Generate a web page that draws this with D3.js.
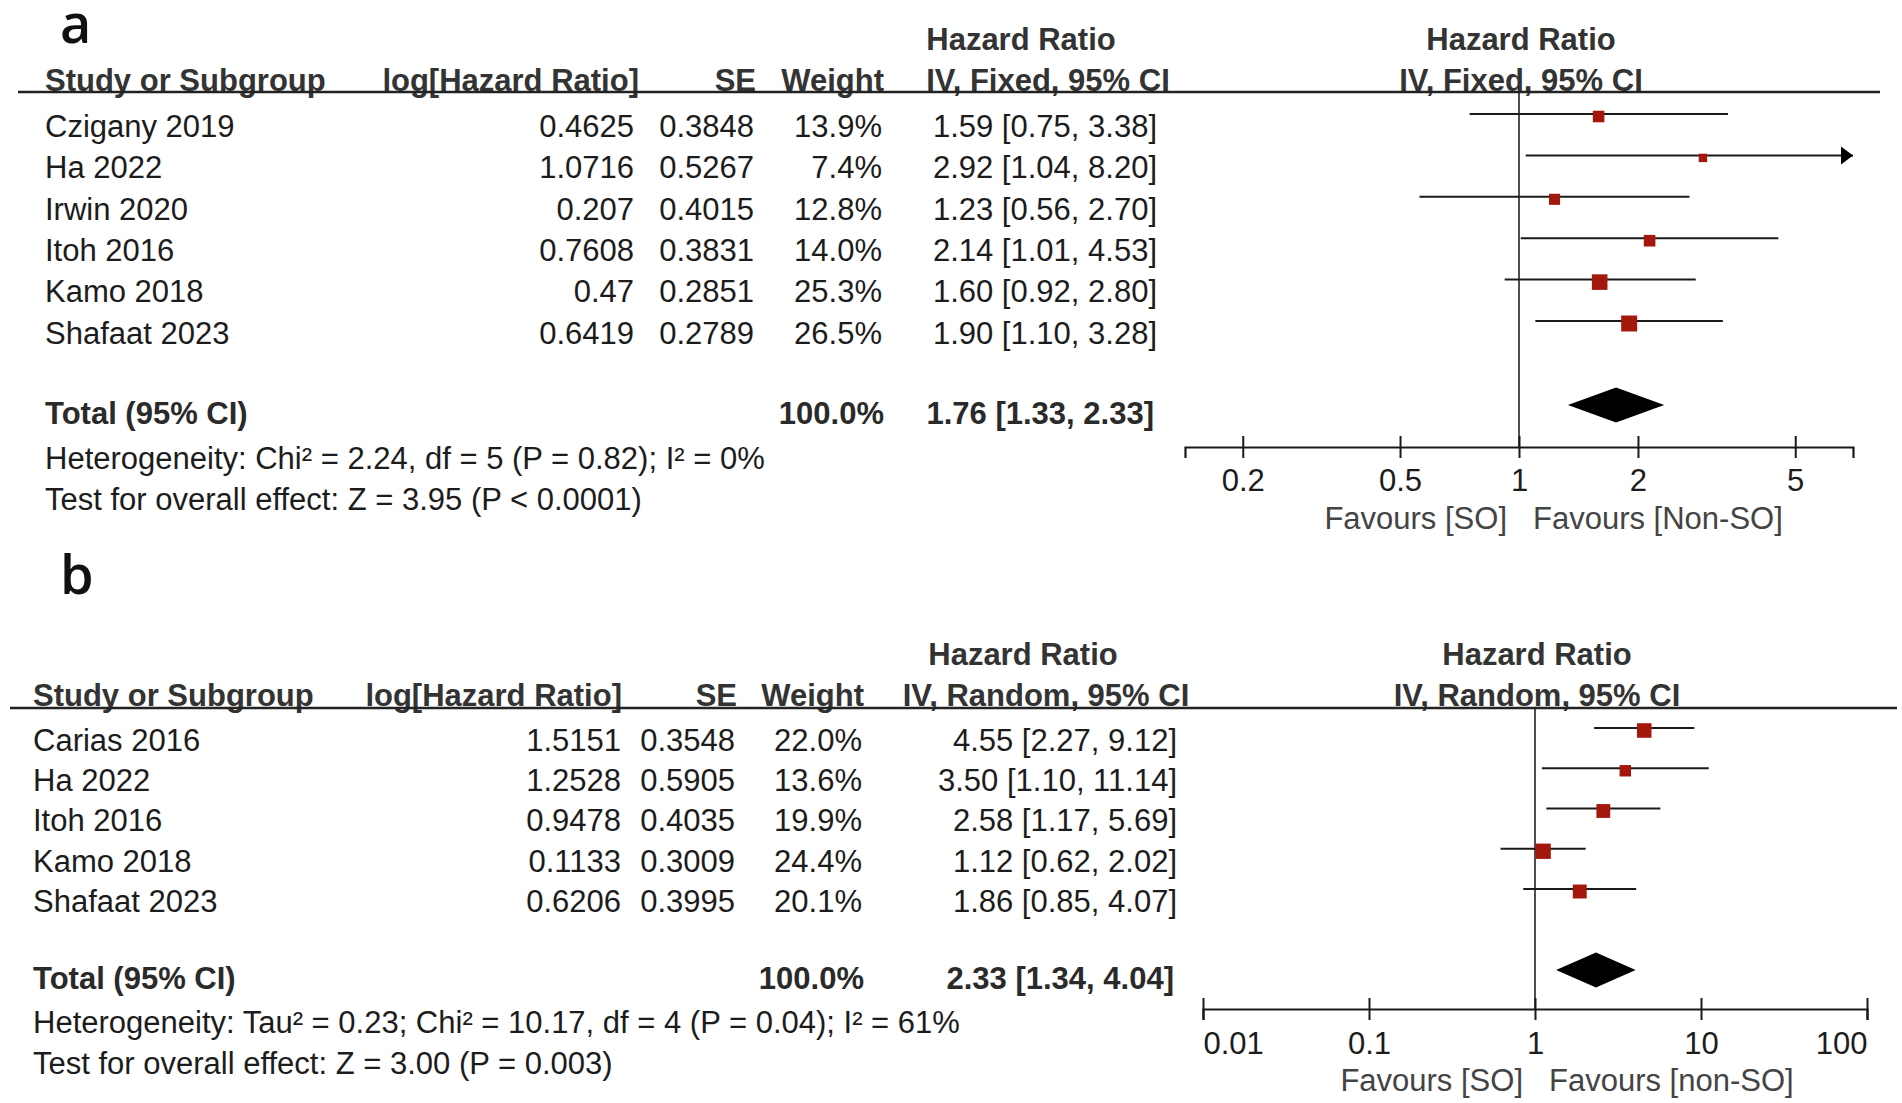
<!DOCTYPE html>
<html>
<head>
<meta charset="utf-8">
<script src="https://d3js.org/d3.v7.min.js"></script>
<style>
body { margin: 0; background: #fff; }
text { font-family: "Liberation Sans", Arial, sans-serif; font-size: 31px; fill: #1c1c1c; }
.head { font-weight: bold; fill: #333; }
.bold { font-weight: bold; fill: #2a2a2a; }
.fav { fill: #444; }
.letter { font-family: "Open Sans", "Noto Sans", sans-serif; font-size: 54px; font-weight: 600; fill: #111; }
</style>
</head>
<body>
<div id="chart"></div>
<script>
// panel a - fixed effect
var studiesA = ["Czigany 2019", "Ha 2022", "Irwin 2020", "Itoh 2016", "Kamo 2018", "Shafaat 2023"]
var logHrA = [0.4625, 1.0716, 0.207, 0.7608, 0.47, 0.6419]
var seA = [0.3848, 0.5267, 0.4015, 0.3831, 0.2851, 0.2789]
var weightA = [13.9, 7.4, 12.8, 14.0, 25.3, 26.5]
var hrA = [1.59, 2.92, 1.23, 2.14, 1.60, 1.90]
var lowA = [0.75, 1.04, 0.56, 1.01, 0.92, 1.10]
var highA = [3.38, 8.20, 2.70, 4.53, 2.80, 3.28]
var totalA = [1.76, 1.33, 2.33]
var ticksA = [0.2, 0.5, 1, 2, 5]
var hetA = "Heterogeneity: Chi\u00b2 = 2.24, df = 5 (P = 0.82); I\u00b2 = 0%"
var testA = "Test for overall effect: Z = 3.95 (P < 0.0001)"

// panel b - random effects
var studiesB = ["Carias 2016", "Ha 2022", "Itoh 2016", "Kamo 2018", "Shafaat 2023"]
var logHrB = [1.5151, 1.2528, 0.9478, 0.1133, 0.6206]
var seB = [0.3548, 0.5905, 0.4035, 0.3009, 0.3995]
var weightB = [22.0, 13.6, 19.9, 24.4, 20.1]
var hrB = [4.55, 3.50, 2.58, 1.12, 1.86]
var lowB = [2.27, 1.10, 1.17, 0.62, 0.85]
var highB = [9.12, 11.14, 5.69, 2.02, 4.07]
var totalB = [2.33, 1.34, 4.04]
var ticksB = [0.01, 0.1, 1, 10, 100]
var hetB = "Heterogeneity: Tau\u00b2 = 0.23; Chi\u00b2 = 10.17, df = 4 (P = 0.04); I\u00b2 = 61%"
var testB = "Test for overall effect: Z = 3.00 (P = 0.003)"

var svg = d3.select("#chart")
  .append("svg")
  .attr("width", 1902)
  .attr("height", 1103)

function txt(g, x, y, s, anchor, cls) {
  return g.append("text")
    .attr("x", x)
    .attr("y", y)
    .attr("dy", "0.35em")
    .attr("text-anchor", anchor || "start")
    .attr("class", cls || null)
    .text(s)
}

function forest(d, lay) {
  var g = svg.append("g")

  var y = d3.scalePoint().domain(d.studies).range(lay.rows)
  var x = d3.scaleLog().domain(lay.domain).range(lay.range)
  var xmax = lay.range[1]

  // panel letter
  g.append("text").attr("class", "letter").attr("x", 60).attr("y", lay.letterY).text(d.letter)

  // headers
  txt(g, lay.hrHeadX, lay.h1, "Hazard Ratio", "middle", "head")
  txt(g, lay.plotHeadX, lay.h1, "Hazard Ratio", "middle", "head")
  txt(g, lay.nameX, lay.h2, "Study or Subgroup", "start", "head")
  txt(g, lay.logHeadX, lay.h2, "log[Hazard Ratio]", "end", "head")
  txt(g, lay.seX + 2, lay.h2, "SE", "end", "head")
  txt(g, lay.wX + 2, lay.h2, "Weight", "end", "head")
  txt(g, lay.ciHeadX, lay.h2, d.method, "middle", "head")
  txt(g, lay.plotHeadX, lay.h2, d.method, "middle", "head")

  g.append("line")
    .attr("x1", lay.lineX[0]).attr("x2", lay.lineX[1])
    .attr("y1", lay.line).attr("y2", lay.line)
    .attr("stroke", "#222").attr("stroke-width", 2.5)

  // study rows
  d.studies.forEach(function(s, i) {
    var yy = y(s)
    txt(g, lay.nameX, yy, s)
    txt(g, lay.logX, yy, String(d.loghr[i]), "end")
    txt(g, lay.seX, yy, String(d.se[i]), "end")
    txt(g, lay.wX, yy, d.weight[i].toFixed(1) + "%", "end")
    txt(g, lay.ciX, yy, d.hr[i].toFixed(2) + " [" + d.low[i].toFixed(2) + ", " + d.high[i].toFixed(2) + "]", "end")
  })

  // totals and footnotes
  txt(g, lay.nameX, lay.totalY, "Total (95% CI)", "start", "bold")
  txt(g, lay.wX + 2, lay.totalY, "100.0%", "end", "bold")
  txt(g, lay.ciX - 3, lay.totalY, d.total[0].toFixed(2) + " [" + d.total[1].toFixed(2) + ", " + d.total[2].toFixed(2) + "]", "end", "bold")
  txt(g, lay.nameX, lay.hetY, d.het)
  txt(g, lay.nameX, lay.testY, d.test)

  // line of no effect
  g.append("line")
    .attr("x1", x(1)).attr("x2", x(1))
    .attr("y1", lay.line).attr("y2", lay.axisY)
    .attr("stroke", "#222").attr("stroke-width", 1.6)

  // confidence intervals
  d.studies.forEach(function(s, i) {
    var ly = y(s) - 12
    var x2 = Math.min(x(d.high[i]), xmax)
    g.append("line")
      .attr("x1", x(d.low[i])).attr("x2", x2)
      .attr("y1", ly).attr("y2", ly)
      .attr("stroke", "#1a1a1a").attr("stroke-width", 2)
    if (x(d.high[i]) > xmax) {
      g.append("path")
        .attr("d", "M" + (xmax - 12) + "," + (ly - 9) + "L" + xmax + "," + ly + "L" + (xmax - 12) + "," + (ly + 9) + "Z")
        .attr("fill", "#000")
    }
  })

  // weight squares
  g.selectAll("rect.sq")
    .data(d.studies)
    .enter()
    .append("rect")
    .attr("class", "sq")
    .attr("x", function(s, i) { return x(d.hr[i]) - 1.55 * Math.sqrt(d.weight[i]) })
    .attr("y", function(s, i) { return y(s) - 9.5 - 1.55 * Math.sqrt(d.weight[i]) })
    .attr("width", function(s, i) { return 3.1 * Math.sqrt(d.weight[i]) })
    .attr("height", function(s, i) { return 3.1 * Math.sqrt(d.weight[i]) })
    .attr("fill", "#a3170c")

  // pooled diamond
  var dy = lay.totalY - 8
  g.append("path")
    .attr("d", "M" + x(d.total[1]) + "," + dy + "L" + x(d.total[0]) + "," + (dy - 17.5) +
      "L" + x(d.total[2]) + "," + dy + "L" + x(d.total[0]) + "," + (dy + 17.5) + "Z")
    .attr("fill", "#000")

  // axis
  var ax = g.append("g")
    .attr("transform", "translate(0," + lay.axisY + ")")
    .call(d3.axisBottom(x).tickValues(d.ticks).tickSizeOuter(0).tickSize(11).tickFormat(function(t) { return String(t) }))
  ax.select(".domain").attr("stroke", "#1a1a1a").attr("stroke-width", 2.2)
  ax.selectAll(".tick line").attr("y1", -11).attr("y2", 11).attr("stroke", "#1a1a1a").attr("stroke-width", 2)
  ax.selectAll(".tick text")
    .attr("y", lay.tickY - lay.axisY)
    .attr("dy", "0.35em")
    .attr("font-size", null)
    .attr("font-family", null)
    .attr("fill", null)
    .attr("text-anchor", function(t) {
      if (t == lay.domain[0]) return "start"
      if (t == lay.domain[1]) return "end"
      return "middle"
    })
  ax.attr("font-size", null).attr("font-family", null)

  txt(g, x(1) - 12, lay.favY, "Favours [SO]", "end", "fav")
  txt(g, x(1) + 14, lay.favY, d.favRight, "start", "fav")
}

forest({
  letter: "a", method: "IV, Fixed, 95% CI", studies: studiesA, loghr: logHrA, se: seA, weight: weightA,
  hr: hrA, low: lowA, high: highA, total: totalA, ticks: ticksA, het: hetA, test: testA, favRight: "Favours [Non-SO]"
}, {
  letterY: 43, h1: 39, h2: 80, line: 92, lineX: [18, 1880], rows: [126, 333],
  totalY: 413, hetY: 458, testY: 499, nameX: 45, logX: 634, logHeadX: 639, seX: 754, wX: 882, ciX: 1157,
  hrHeadX: 1021, ciHeadX: 1048, plotHeadX: 1521, axisY: 447, tickY: 480, favY: 518,
  domain: [1 / 7, 7], range: [1185, 1853]
})

forest({
  letter: "b", method: "IV, Random, 95% CI", studies: studiesB, loghr: logHrB, se: seB, weight: weightB,
  hr: hrB, low: lowB, high: highB, total: totalB, ticks: ticksB, het: hetB, test: testB, favRight: "Favours [non-SO]"
}, {
  letterY: 594, h1: 654, h2: 695, line: 708, lineX: [10, 1897], rows: [740, 901],
  totalY: 978, hetY: 1022, testY: 1063, nameX: 33, logX: 621, logHeadX: 622, seX: 735, wX: 862, ciX: 1177,
  hrHeadX: 1023, ciHeadX: 1046, plotHeadX: 1537, axisY: 1009, tickY: 1043, favY: 1080,
  domain: [0.01, 100], range: [1203, 1867]
})
</script>
</body>
</html>
